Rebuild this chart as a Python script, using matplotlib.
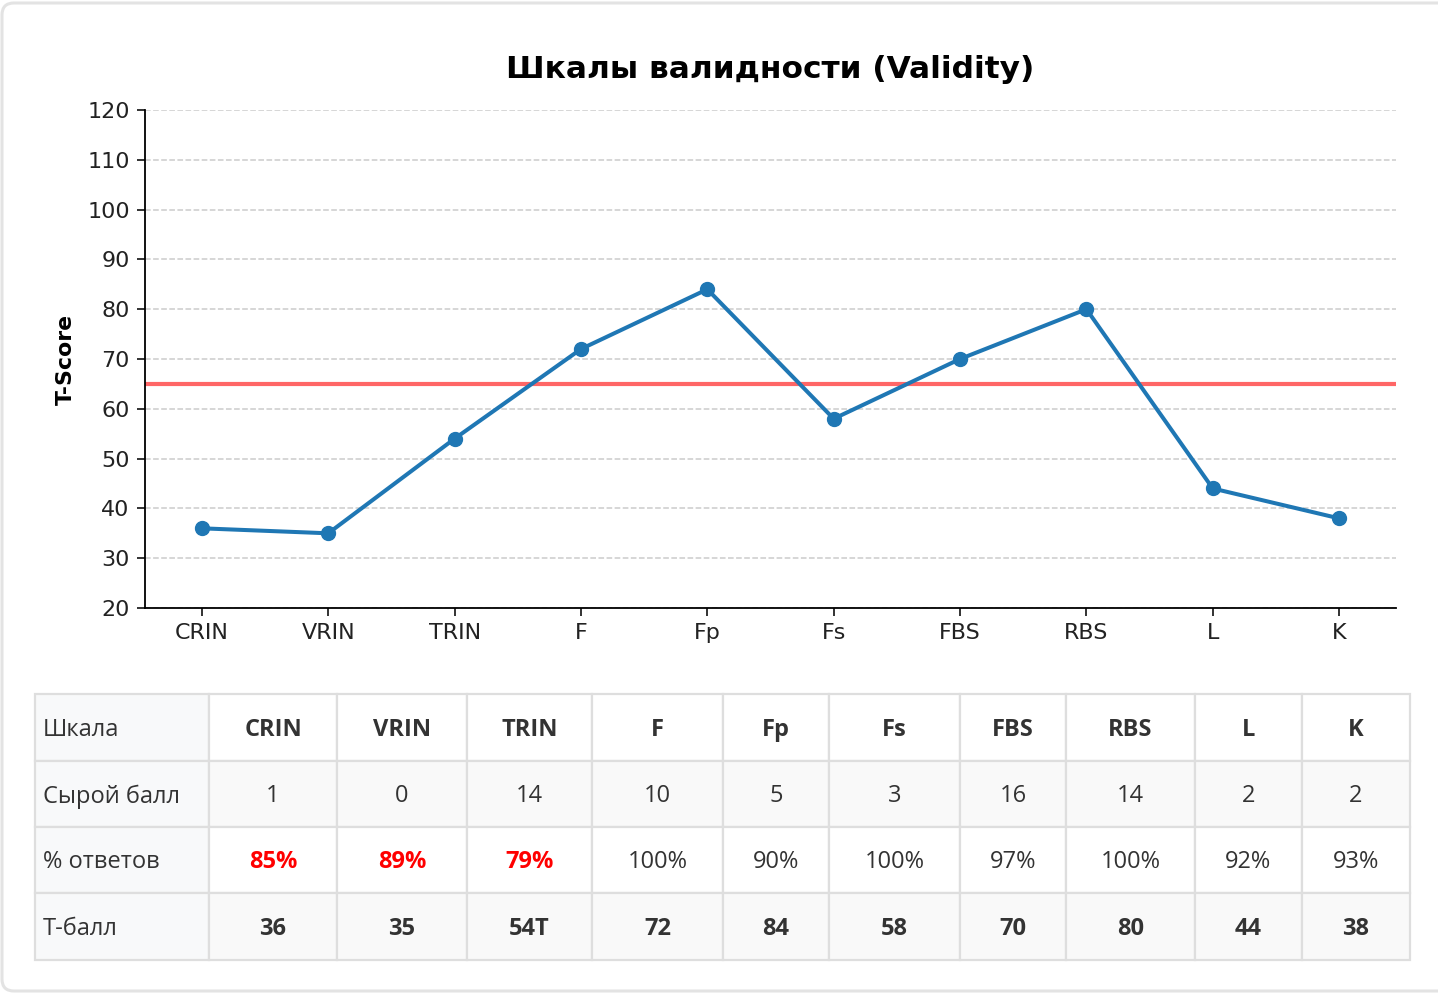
import matplotlib
matplotlib.use("Agg")
import matplotlib.pyplot as plt
from matplotlib.patches import Rectangle, FancyBboxPatch

# ---- data ----
scales = ['CRIN', 'VRIN', 'TRIN', 'F', 'Fp', 'Fs', 'FBS', 'RBS', 'L', 'K']
t_scores = [36, 35, 54, 72, 84, 58, 70, 80, 44, 38]
raw_scores = [1, 0, 14, 10, 5, 3, 16, 14, 2, 2]
pct_answered = [85, 89, 79, 100, 90, 100, 97, 100, 92, 93]
t_labels = ['36', '35', '54T', '72', '84', '58', '70', '80', '44', '38']
row_headers = ['Шкала', 'Сырой балл', '% ответов', 'T-балл']
threshold = 65
pct_warn = 90
y_ticks = [20, 30, 40, 50, 60, 70, 80, 90, 100, 110, 120]

W, H = 1438, 994
fig = plt.figure(figsize=(W / 100, H / 100), dpi=100)
fig.patch.set_facecolor('white')

# ---- background card / table layer ----
tax = fig.add_axes([0, 0, 1, 1])
tax.set_xlim(0, W)
tax.set_ylim(H, 0)
tax.axis('off')
tax.add_patch(FancyBboxPatch((2, 3), W + 40, 988, boxstyle="round,pad=0,rounding_size=12",
                             facecolor='white', edgecolor='#e3e3e3', linewidth=2.2, zorder=0))

# ---- chart ----
ax = fig.add_axes([145 / W, 1 - 608 / H, (1396 - 145) / W, (608 - 110) / H])
x = list(range(len(scales)))
ax.plot(x, t_scores, color='#1f77b4', linewidth=2.9, marker='o', markersize=10, zorder=3)
ax.axhline(threshold, color='#ff6666', linewidth=3, zorder=2)
ax.set_ylim(20, 120)
ax.set_yticks(y_ticks)
ax.set_xticks(x)
ax.set_xticklabels(scales)
ax.set_xlim(-0.45, len(scales) - 1 + 0.45)
ax.grid(axis='y', linestyle='--', color='#cccccc', linewidth=1.1)
ax.set_axisbelow(True)
for s in ['top', 'right']:
    ax.spines[s].set_visible(False)
for s in ['left', 'bottom']:
    ax.spines[s].set_linewidth(1.3)
ax.tick_params(axis='both', labelsize=16, length=6, width=1.3, pad=5, colors='#222222', labelcolor='#222222')
ax.set_ylabel('T-Score', fontsize=15.8, fontweight='bold', labelpad=8)
ax.set_title('Шкалы валидности (Validity)', fontsize=22.5, fontweight='bold', pad=23)

# ---- table ----
col_edges = [35, 209, 337, 467, 592, 723, 829, 960, 1066, 1195, 1302, 1410]
row_edges = [694, 761, 827, 893, 960]
border = '#dedede'
text_col = '#333333'
tfont = ['Open Sans', 'DejaVu Sans']
fs = 17

rows = [
    [(s, 'bold', text_col) for s in scales],
    [(str(v), 'normal', text_col) for v in raw_scores],
    [(f'{p}%', 'bold' if p < pct_warn else 'normal', 'red' if p < pct_warn else text_col) for p in pct_answered],
    [(t, 'bold', text_col) for t in t_labels],
]

for r in range(4):
    y0, y1 = row_edges[r], row_edges[r + 1]
    for c in range(len(col_edges) - 1):
        x0, x1 = col_edges[c], col_edges[c + 1]
        if c == 0:
            fc = '#f8f9fa'
        elif r % 2 == 1:
            fc = '#f9f9f9'
        else:
            fc = 'white'
        tax.add_patch(Rectangle((x0, y0), x1 - x0, y1 - y0, facecolor=fc,
                                edgecolor=border, linewidth=1.6, zorder=1))
        ym = (y0 + y1) / 2 + 2.5
        if c == 0:
            tax.text(x0 + 8, ym, row_headers[r], ha='left', va='center', fontsize=fs,
                     family=tfont, color=text_col, zorder=2)
        else:
            txt, wt, colr = rows[r][c - 1]
            tax.text((x0 + x1) / 2, ym, txt, ha='center', va='center', fontsize=fs,
                     family=tfont, fontweight=wt, color=colr, zorder=2)

fig.savefig('out.png', dpi=100, facecolor='white')
